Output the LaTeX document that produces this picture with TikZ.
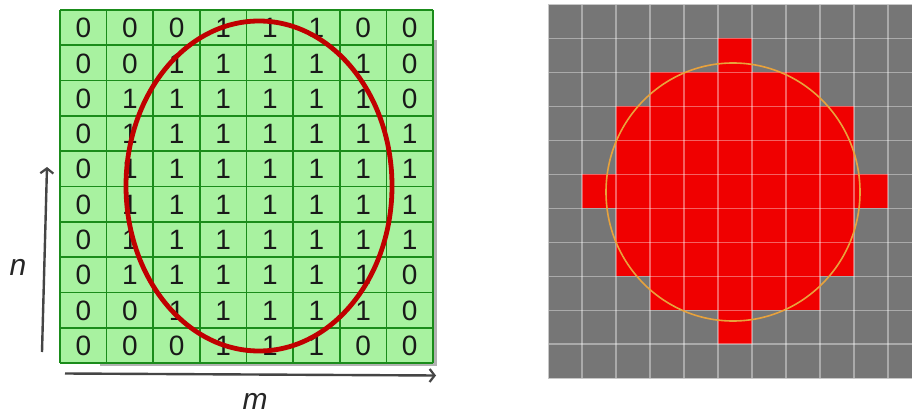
\documentclass[tikz,border=0pt]{standalone}
\usepackage{fontspec}
\setmainfont{Liberation Sans}
\usetikzlibrary{arrows.meta}
\definecolor{cellgreen}{HTML}{A8F2A0}
\definecolor{gridgreen}{HTML}{1A8C1A}
\definecolor{ellred}{HTML}{C00000}
\definecolor{axisgray}{HTML}{454545}
\definecolor{pixgray}{HTML}{767676}
\definecolor{pixred}{HTML}{F00000}
\definecolor{circorange}{HTML}{E8A23C}
\tikzset{
  digit/.style={inner sep=0pt, font=\fontsize{28}{30}\selectfont, text=black!90},
  axislabel/.style={inner sep=0pt, font=\fontsize{30}{32}\selectfont\itshape, text=black!85},
  axisarrow/.style={draw=axisgray, line width=2.4, -{Straight Barb[length=5pt,width=13pt,line width=2.2]}},
  greenline/.style={draw=gridgreen, line width=1.7},
  pixline/.style={draw=white, draw opacity=0.38, line width=1.1},
}
\begin{document}
\begin{tikzpicture}[x=1pt,y=-1pt]
\useasboundingbox (0,0) rectangle (912,414);
\fill[white] (0,0) rectangle (912,414);

% ---- left panel: binary matrix ----
\fill[black!30] (100,40) rectangle (437,366);
\fill[cellgreen] (60,10) rectangle (433,363);
\foreach \i in {0,...,8} \draw[greenline] ({60+46.625*\i},10) -- ({60+46.625*\i},363);
\foreach \j in {0,...,10} \draw[greenline] (60,{10+35.3*\j}) -- (433,{10+35.3*\j});

\foreach \row [count=\r] in {
  {0,0,0,1,1,1,0,0},
  {0,0,1,1,1,1,1,0},
  {0,1,1,1,1,1,1,0},
  {0,1,1,1,1,1,1,1},
  {0,1,1,1,1,1,1,1},
  {0,1,1,1,1,1,1,1},
  {0,1,1,1,1,1,1,1},
  {0,1,1,1,1,1,1,0},
  {0,0,1,1,1,1,1,0},
  {0,0,0,1,1,1,0,0}} {
  \foreach \v [count=\c] in \row {
    \node[digit] (d\r-\c) at ({60+46.625*(\c-0.5)},{10+35.3*(\r-0.5)+0.5}) {\v};
  }
}

\draw[ellred, line width=4.8] (259,186) ellipse [x radius=133, y radius=165];

% axes
\coordinate (ny0) at (42,352);
\coordinate (ny1) at (47,167);
\draw[axisarrow] (ny0) -- (ny1);
\coordinate (mx0) at (65,373.5);
\coordinate (mx1) at (436,375.5);
\draw[axisarrow] (mx0) -- (mx1);
\node[axislabel] (nlab) at (18,267) {n};
\node[axislabel] (mlab) at (255,401) {m};

% ---- right panel: pixel grid ----
\fill[pixgray] (548,4.5) rectangle (912,378);
\foreach \r/\a/\b in {1/5/5,2/3/7,3/2/8,4/2/8,5/1/9,6/2/8,7/2/8,8/3/7,9/5/5}
  \fill[pixred] ({548+34*\a},{4.5+33.95*\r}) rectangle ({548+34*(\b+1)},{4.5+33.95*(\r+1)});
\foreach \i in {1,...,10} \draw[pixline] ({548+34*\i},4.5) -- ({548+34*\i},378);
\foreach \j in {1,...,10} \draw[pixline] (548,{4.5+33.95*\j}) -- (912,{4.5+33.95*\j});
\draw[black!22, line width=1] (912,4.5) -- (548,4.5) -- (548,378) -- (912,378);
\draw[circorange, line width=1.6] (733,192) ellipse [x radius=127, y radius=129];
\end{tikzpicture}
\end{document}
